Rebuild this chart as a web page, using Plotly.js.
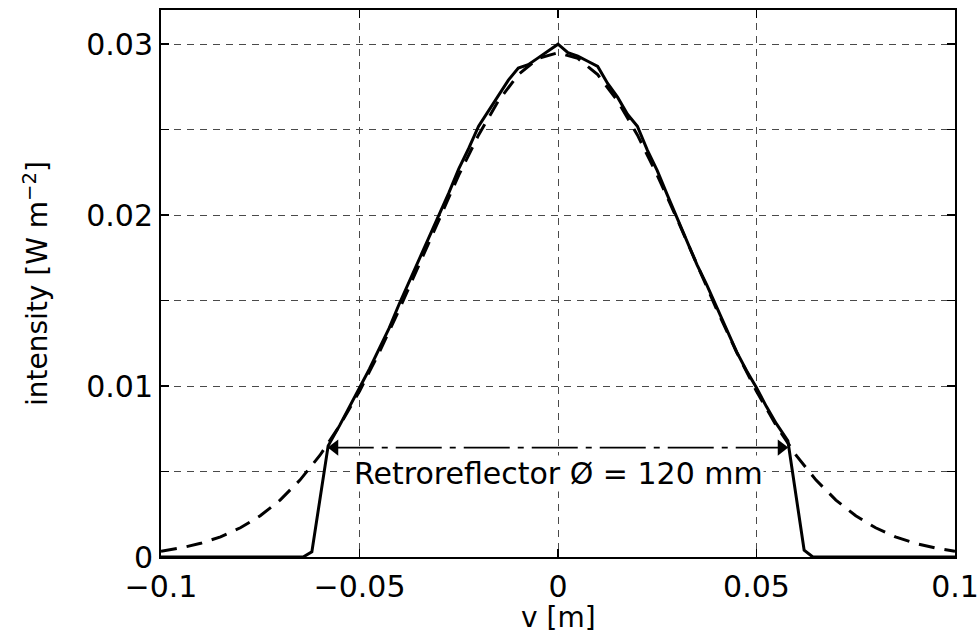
<!DOCTYPE html>
<html>
<head>
<meta charset="utf-8">
<script src="https://cdn.plot.ly/plotly-3.0.1.min.js"></script>
<style>
  html, body { margin: 0; padding: 0; background: #ffffff; }
  #chart { width: 980px; height: 632px; }
</style>
</head>
<body>
<div id="chart"></div>
<script>
// Axis ticks
const xTicks = [-0.1, -0.05, 0, 0.05, 0.1];
const xTickLabels = ['\u22120.1', '\u22120.05', '0', '0.05', '0.1'];
const yTicks = [0, 0.01, 0.02, 0.03];
const yTickLabels = ['0', '0.01', '0.02', '0.03'];
const yMinorTicks = [0.005, 0.015, 0.025];
const xTitle = 'v [m]';
const yTitle = 'intensity [W m<sup>\u22122</sup>]';

// Measured intensity (solid)
const measX = [-0.1, -0.0642, -0.062, -0.0579, -0.055, -0.0525, -0.05, -0.0475, -0.045, -0.0425,
  -0.04, -0.0375, -0.035, -0.0325, -0.03, -0.0275, -0.025, -0.0225, -0.02, -0.0175,
  -0.015, -0.0125, -0.01, -0.0075, -0.005, -0.0025, 0, 0.0025, 0.005, 0.0075,
  0.01, 0.0125, 0.015, 0.0175, 0.02, 0.0225, 0.025, 0.0275, 0.03, 0.0325,
  0.035, 0.0375, 0.04, 0.0425, 0.045, 0.0475, 0.05, 0.0525, 0.055, 0.0579,
  0.062, 0.0642, 0.1];
const measY = [0, 0, 0.0003, 0.0065, 0.0077, 0.0088, 0.0099, 0.0110, 0.0122, 0.0134,
  0.0148, 0.0161, 0.0174, 0.0186, 0.0199, 0.0213, 0.0227, 0.0239, 0.0252, 0.0261,
  0.0270, 0.0279, 0.0286, 0.0288, 0.0292, 0.0296, 0.0300, 0.0295, 0.0293, 0.0290,
  0.0287, 0.0277, 0.0269, 0.0259, 0.0252, 0.0238, 0.0226, 0.0212, 0.0198, 0.0185,
  0.0171, 0.0159, 0.0146, 0.0133, 0.0120, 0.0109, 0.0099, 0.0088, 0.0078, 0.0068,
  0.0004, 0, 0];

// Fitted profile (dashed)
const fitX = [-0.1, -0.095, -0.09, -0.085, -0.08, -0.075, -0.07, -0.065, -0.06, -0.055,
  -0.05, -0.045, -0.04, -0.035, -0.03, -0.025, -0.02, -0.015, -0.01, -0.005,
  0, 0.005, 0.01, 0.015, 0.02, 0.025, 0.03, 0.035, 0.04, 0.045,
  0.05, 0.055, 0.06, 0.065, 0.07, 0.075, 0.08, 0.085, 0.09, 0.095, 0.1];
const fitY = [0.00034, 0.00053, 0.00080, 0.00118, 0.00171, 0.00241, 0.00333, 0.00450, 0.00594, 0.00768,
  0.00970, 0.01198, 0.01447, 0.01710, 0.01977, 0.02234, 0.02469, 0.02669, 0.02822, 0.02917,
  0.02950, 0.02917, 0.02822, 0.02669, 0.02469, 0.02234, 0.01977, 0.01710, 0.01447, 0.01198,
  0.00970, 0.00768, 0.00594, 0.00450, 0.00333, 0.00241, 0.00171, 0.00118, 0.00080, 0.00053, 0.00034];

// Retroreflector diameter marker
const diamX = [-0.058, 0.058];
const diamY = [0.0064, 0.0064];
const diamArrowAngle = [-90, 90];
const diamLabel = 'Retroreflector \u00D8 = 120 mm';

const FONT = 'DejaVu Sans, Liberation Sans, Arial, sans-serif';
const GRID = { color: '#4a4a4a', dash: '7px,6px' };
const ARROW_SIZE = 14;

const traces = [
  { x: fitX, y: fitY, type: 'scatter', mode: 'lines', name: 'fit',
    line: { color: '#000000', width: 3, dash: '16px,10px' }, hoverinfo: 'skip' },
  { x: measX, y: measY, type: 'scatter', mode: 'lines', name: 'measured',
    line: { color: '#000000', width: 3 }, hoverinfo: 'skip' },
  { x: diamX, y: diamY, type: 'scatter', mode: 'lines+markers', name: 'diameter',
    line: { color: '#000000', width: 1.6, dash: '46px,8px,6px,8px' },
    marker: { symbol: 'triangle-up', size: ARROW_SIZE, angle: diamArrowAngle,
      standoff: ARROW_SIZE / 2, color: '#000000', line: { width: 0 } },
    cliponaxis: false, hoverinfo: 'skip' }
];

const axisCommon = {
  showline: true, linecolor: '#000000', linewidth: 2, mirror: 'allticks',
  ticks: 'inside', ticklen: 8, tickwidth: 1.5, tickcolor: '#000000',
  showgrid: true, gridcolor: GRID.color, gridwidth: 1, griddash: GRID.dash,
  zeroline: false, tickmode: 'array',
  tickfont: { family: FONT, size: 30, color: '#000000' }
};

const layout = {
  width: 980, height: 632,
  margin: { l: 161, r: 25, t: 10, b: 75, pad: 0 },
  paper_bgcolor: '#ffffff', plot_bgcolor: '#ffffff',
  showlegend: false, hovermode: false,
  xaxis: Object.assign({}, axisCommon, {
    range: [-0.1, 0.1], tickvals: xTicks, ticktext: xTickLabels, ticklabelstandoff: 2
  }),
  yaxis: Object.assign({}, axisCommon, {
    range: [0, 0.032], tickvals: yTicks, ticktext: yTickLabels,
    minor: { tickmode: 'array', tickvals: yMinorTicks, ticks: 'inside', ticklen: 8,
      tickwidth: 1.5, tickcolor: '#000000', showgrid: true,
      gridcolor: GRID.color, gridwidth: 1, griddash: GRID.dash },
    title: { text: yTitle, font: { family: FONT, size: 28, color: '#000000' }, standoff: 30 }
  }),
  annotations: [
    { x: 0, y: 0.0049, xref: 'x', yref: 'y', text: diamLabel, showarrow: false,
      xanchor: 'center', yanchor: 'middle', bgcolor: '#ffffff', borderpad: 0,
      font: { family: FONT, size: 30, color: '#000000' } },
    { x: 0.5, y: -0.079, xref: 'paper', yref: 'paper', text: xTitle, showarrow: false,
      xanchor: 'center', yanchor: 'top', borderpad: 0,
      font: { family: FONT, size: 28, color: '#000000' } }
  ]
};

Plotly.newPlot('chart', traces, layout, { displayModeBar: false, staticPlot: true });
</script>
</body>
</html>
